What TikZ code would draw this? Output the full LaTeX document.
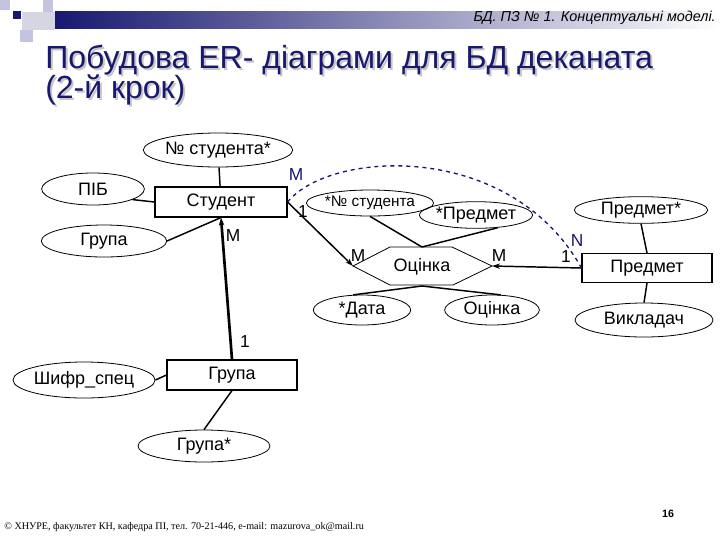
\documentclass[tikz,border=0pt]{standalone}
\usepackage{fontspec}
\setmainfont{Liberation Sans}
\newfontfamily\serifft{Liberation Serif}
\usetikzlibrary{shapes.geometric,arrows.meta}
\definecolor{navy}{RGB}{24,24,112}
\definecolor{lav}{RGB}{196,196,224}
\definecolor{lgray}{RGB}{214,214,226}
\begin{document}
\begin{tikzpicture}[x=0.75pt,y=-0.75pt,
  attr/.style={ellipse, draw, line width=0.6pt, inner sep=0pt, font=\fontsize{13.5}{15}\selectfont},
  ent/.style={rectangle, draw, line width=0.8pt, inner sep=0pt, font=\fontsize{13.5}{15}\selectfont},
  lnk/.style={line width=1.1pt},
  heavy/.style={line width=2pt},
  tip/.style={-{Stealth[length=6pt,width=4pt]}},
  card/.style={inner sep=0pt, font=\fontsize{13}{14}\selectfont},
  bcard/.style={card, text=navy},
  ttl/.style={anchor=base west, inner sep=0pt, font=\fontsize{24}{28}\selectfont}]
\useasboundingbox (0,0) rectangle (720,540);
\fill[white] (0,0) rectangle (720,540);
% header decoration
\fill[lav] (0,0) rectangle (10,10);
\fill[lgray] (22,12) rectangle (55,30);
\fill[lav] (43,0) rectangle (53,12);
\fill[lav] (20,30) rectangle (33,42);
\fill[navy] (13,11) rectangle (21,19);
\shade[left color=navy, middle color=gray!50, right color=white] (55,11) rectangle (720,28);
\node[anchor=east, inner sep=0pt, font=\fontsize{10.8}{12}\selectfont\itshape] (hdr) at (716,18) {БД. ПЗ № 1. Концептуальні моделі.};
% title
\node[ttl, text=gray!45] (t1s) at (47,70) {Побудова ER- діаграми для БД деканата};
\node[ttl, text=gray!45] (t2s) at (47,100) {(2-й крок)};
\node[ttl, text=navy] (t1) at (45,68) {Побудова ER- діаграми для БД деканата};
\node[ttl, text=navy] (t2) at (45,98) {(2-й крок)};
% entities
\node[ent, minimum width=99pt, minimum height=22.5pt] (st) at (221,202) {Студент};
\node[ent, minimum width=97.5pt, minimum height=22.5pt] (gr) at (232,375) {Група};
\node[ent, minimum width=97.5pt, minimum height=21.75pt] (pr) at (647,268) {Предмет};
% attributes
\node[attr, minimum width=104pt, minimum height=25.5pt] (ns) at (218,150) {№ студента*};
\node[attr, minimum width=77pt, minimum height=24pt] (pib) at (93,189) {ПІБ};
\node[attr, minimum width=94pt, minimum height=24pt] (gra) at (104,241) {Група};
\node[attr, minimum width=99pt, minimum height=27pt] (shs) at (84,380) {Шифр\_спец};
\node[attr, minimum width=99pt, minimum height=24pt] (grk) at (204,446) {Група*};
\node[attr, minimum width=76.5pt, minimum height=19.5pt, font=\fontsize{11.5}{13}\selectfont] (ns2) at (370,203) {*№ студента};
\node[attr, minimum width=71pt, minimum height=20pt] (pr2) at (476,215) {*Предмет};
\node[attr, minimum width=73pt, minimum height=22.5pt] (dat) at (362,310) {*Дата};
\node[attr, minimum width=71pt, minimum height=22.5pt] (oca) at (492,310) {Оцінка};
\node[attr, minimum width=100pt, minimum height=20pt] (prk) at (641,210) {Предмет*};
\node[attr, minimum width=103.5pt, minimum height=25.5pt] (vyk) at (644,320) {Викладач};
% relationship hexagon
\coordinate (hl) at (353,266);
\coordinate (htl) at (390,247);
\coordinate (ht) at (422,247);
\coordinate (htr) at (452,247);
\coordinate (hr) at (492,266);
\coordinate (hbr) at (453,285);
\coordinate (hb) at (422,286);
\coordinate (hbl) at (390,285);
\draw[line width=0.6pt] (hl) -- (htl) -- (htr) -- (hr) -- (hbr) -- (hbl) -- cycle;
\node[inner sep=0pt, font=\fontsize{13.5}{15}\selectfont] (ocr) at (422,267) {Оцінка};
% connectors
\draw[lnk] (ns) -- (st);
\draw[lnk] (pib.-15) -- (st.west);
\draw[lnk] (gra.east) -- (st.south);
\draw[heavy, tip] (gr.north) -- (st.south);
\draw[lnk] (shs.east) -- (gr.west);
\draw[lnk] (grk.north) -- (gr.south);
\draw[lnk, tip] (st.east) -- (hl);
\draw[lnk] (ht) -- (ns2.south);
\draw[lnk] (ht) -- (pr2.-30);
\draw[lnk] (hb) -- (dat.120);
\draw[lnk] (hb) -- (oca.60);
\draw[lnk, tip] (pr.west) -- (hr);
\draw[lnk] (prk.south) -- (pr.north);
\draw[lnk] (pr.south) -- (vyk.north);
\draw[navy, dashed, line width=1pt] (st.east) .. controls (330,150) and (510,140) .. (pr.west);
% cardinalities
\node[bcard] (cm1) at (296,175) {M};
\node[card] (c11) at (303,212) {1};
\node[card] (cm2) at (233,236) {M};
\node[card] (c12) at (245,342) {1};
\node[card] (cm3) at (358,256) {M};
\node[card] (cm4) at (499,256) {M};
\node[card] (c13) at (566,257) {1};
\node[bcard] (cn) at (577,241) {N};
% footer
\node[anchor=west, inner sep=0pt, font=\serifft\fontsize{7.6}{9}\selectfont] (foot) at (4,527) {© ХНУРЕ, факультет КН, кафедра ПІ, тел. 70-21-446, e-mail: mazurova\_ok@mail.ru};
\node[inner sep=0pt, font=\bfseries\fontsize{8}{9}\selectfont] (pg) at (668,514) {16};
\end{tikzpicture}
\end{document}
